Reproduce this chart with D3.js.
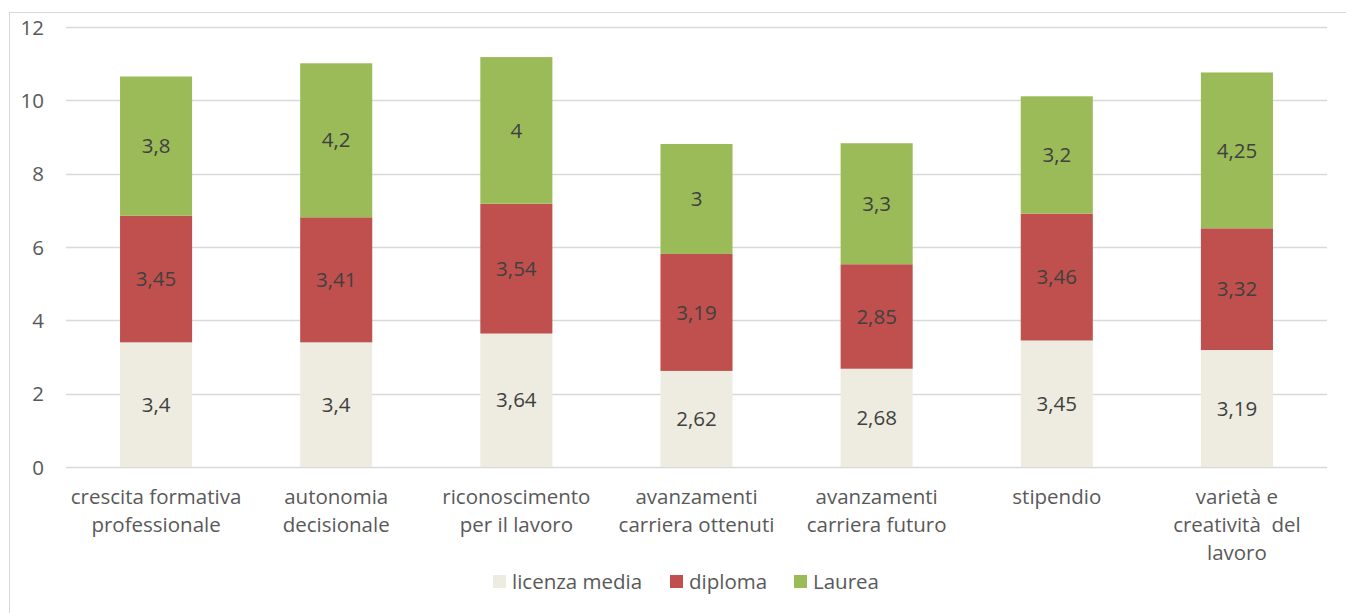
<!DOCTYPE html>
<html><head><meta charset="utf-8">
<script src="https://cdn.jsdelivr.net/npm/d3@7"></script>
<style>body{margin:0;background:#fff}svg{display:block}text{font-family:"Open Sans",sans-serif}</style>
</head><body><svg id="c" width="1346" height="613"></svg>
<script>
const categories = [
  ["crescita formativa","professionale"],
  ["autonomia","decisionale"],
  ["riconoscimento","per il lavoro"],
  ["avanzamenti","carriera ottenuti"],
  ["avanzamenti","carriera futuro"],
  ["stipendio"],
  ["varietà e","creatività  del","lavoro"]
];
const seriesNames = ["licenza media","diploma","Laurea"];
const licenzaMedia = [3.4, 3.4, 3.64, 2.62, 2.68, 3.45, 3.19];
const diploma = [3.45, 3.41, 3.54, 3.19, 2.85, 3.46, 3.32];
const laurea = [3.8, 4.2, 4, 3, 3.3, 3.2, 4.25];
const yTicks = [0, 2, 4, 6, 8, 10, 12];
const colors = ["#EEECE1", "#C0504D", "#9BBB59"];

const FS = "20.5px";
const svg = d3.select("#c");
svg.append("rect").attr("x",9.5).attr("y",12.5).attr("width",1346).attr("height",620)
  .attr("fill","none").attr("stroke","#d9d9d9");

const pLeft=66, pRight=1327, pTop=27, pBottom=467;
const x = d3.scaleBand().domain(d3.range(categories.length)).range([pLeft,pRight]).paddingInner(0.6).paddingOuter(0.3);
const y = d3.scaleLinear().domain([0,12]).range([pBottom,pTop]);

svg.append("g").selectAll("line").data(yTicks).join("line")
  .attr("x1",pLeft).attr("x2",pRight).attr("y1",d=>Math.round(y(d))+0.5).attr("y2",d=>Math.round(y(d))+0.5)
  .attr("stroke","#d9d9d9").attr("stroke-width",1.3);

const yAxis = d3.axisLeft(y).tickValues(yTicks).tickSize(0).tickPadding(0);
const ga = svg.append("g").attr("transform",`translate(44,0)`).call(yAxis);
ga.select(".domain").remove();
ga.selectAll("text").attr("fill","#595959").style("font-size",FS).style("font-family","'Open Sans',sans-serif").attr("dy","0.35em");

const keys = ["licenza","diploma","laurea"];
const data = categories.map((c,i)=>({i, licenza:licenzaMedia[i], diploma:diploma[i], laurea:laurea[i]}));
const stack = d3.stack().keys(keys)(data);

stack.forEach((s,k)=>{
  const g = svg.append("g");
  g.selectAll("rect").data(s).join("rect")
    .attr("x",d=>x(d.data.i)).attr("width",x.bandwidth())
    .attr("y",d=>y(d[1])).attr("height",d=>y(d[0])-y(d[1]))
    .attr("fill",colors[k]);
  g.selectAll("text").data(s).join("text")
    .attr("x",d=>x(d.data.i)+x.bandwidth()/2)
    .attr("y",d=>(y(d[0])+y(d[1]))/2).attr("dy","0.35em")
    .attr("text-anchor","middle").attr("fill","#404040").style("font-size",FS)
    .text(d=>String(d.data[keys[k]]).replace(".",","));
});

const cg = svg.append("g");
categories.forEach((lines,i)=>{
  const cx = x(i)+x.bandwidth()/2;
  const t = cg.append("text").attr("text-anchor","middle").attr("fill","#595959").style("font-size",FS)
    .attr("x",cx).attr("y",504).style("white-space","pre");
  lines.forEach((l,j)=>t.append("tspan").attr("x",cx).attr("dy",j?28:0).text(l));
});

const legX = [493, 670, 794];
const lg = svg.append("g");
seriesNames.forEach((n,k)=>{
  lg.append("rect").attr("x",legX[k]).attr("y",575).attr("width",13).attr("height",13).attr("fill",colors[k]);
  lg.append("text").attr("x",legX[k]+19).attr("y",581.5).attr("dy","0.35em").attr("fill","#595959")
    .style("font-size",FS).text(n);
});
</script></body></html>
